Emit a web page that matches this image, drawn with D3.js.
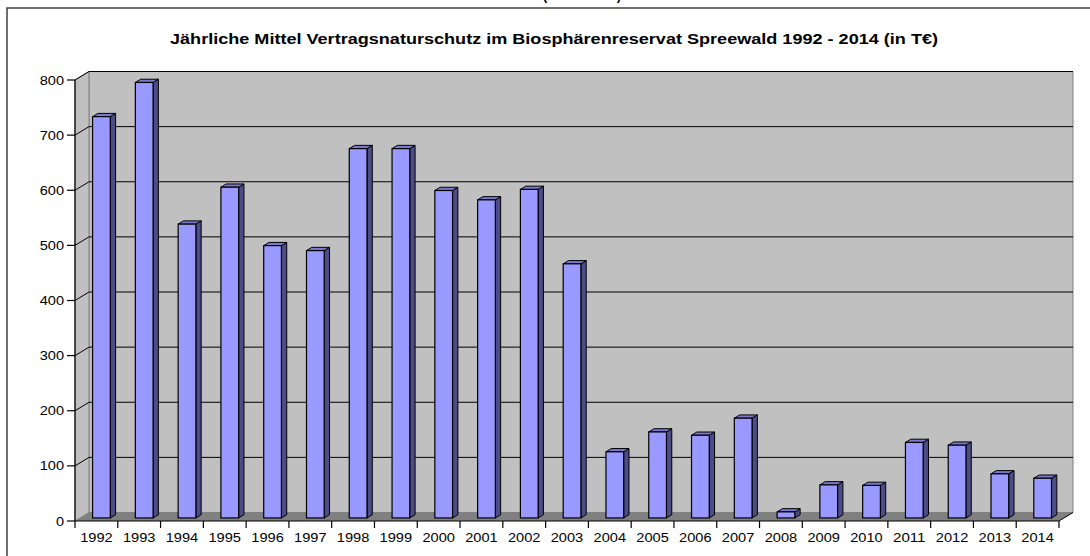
<!DOCTYPE html>
<html>
<head>
<meta charset="utf-8">
<script src="https://cdn.jsdelivr.net/npm/d3@7"></script>
<style>
  html, body { margin: 0; padding: 0; background: #fff; }
  svg { display: block; }
  text { font-family: "Liberation Sans", Arial, sans-serif; }
</style>
</head>
<body>
<svg id="chart" width="1090" height="556"></svg>
<script>
const years = ["1992","1993","1994","1995","1996","1997","1998","1999","2000","2001","2002","2003","2004","2005","2006","2007","2008","2009","2010","2011","2012","2013","2014"];
const values = [728, 790, 533, 600, 494, 485, 670, 670, 594, 577, 596, 461, 120, 156, 150, 181, 11, 60, 59, 137, 132, 80, 72];
const yTicks = [0, 100, 200, 300, 400, 500, 600, 700, 800];
const title = "Jährliche Mittel Vertragsnaturschutz im Biosphärenreservat Spreewald 1992 - 2014 (in T€)";
const cutTitle = "(1992 - 2014)";

const svg = d3.select("#chart");

// geometry
const X0 = 75, X1 = 1059, Y0 = 521, Y1 = 80;
const DX = 14, DY = -8.5;          // depth offset of back wall
const F1 = 0.36, F2 = 0.74;        // bar depth fractions

const x = d3.scaleBand().domain(years).range([X0, X1]).paddingInner(0).paddingOuter(0);
const y = d3.scaleLinear().domain([0, 800]).range([Y0, Y1]);

// outer frame
svg.append("rect").attr("x", 7).attr("y", 8).attr("width", 1100).attr("height", 600)
  .attr("fill", "#fff").attr("stroke", "#404040").attr("stroke-width", 1.5);

// cut-off text at top (as in the reference)
svg.append("text").attr("x", 582).attr("y", 0).attr("text-anchor", "middle")
  .attr("font-size", 13).attr("font-weight", "bold").attr("fill", "#000").text(cutTitle);

// title
svg.append("text").attr("x", 554).attr("y", 43.5).attr("text-anchor", "middle")
  .attr("font-size", 15).attr("font-weight", "bold").attr("fill", "#000")
  .attr("textLength", 768).attr("lengthAdjust", "spacingAndGlyphs")
  .text(title);

const g = svg.append("g");
const pt = (a, b) => a + "," + b;

// back wall
g.append("polygon")
  .attr("points", [pt(X0 + DX, Y1 + DY), pt(X1 + DX, Y1 + DY), pt(X1 + DX, Y0 + DY), pt(X0 + DX, Y0 + DY)].join(" "))
  .attr("fill", "#c0c0c0").attr("stroke", "#808080").attr("stroke-width", 1);
// side wall
g.append("polygon")
  .attr("points", [pt(X0, Y1), pt(X0 + DX, Y1 + DY), pt(X0 + DX, Y0 + DY), pt(X0, Y0)].join(" "))
  .attr("fill", "#c0c0c0").attr("stroke", "#808080").attr("stroke-width", 1);
// floor
g.append("polygon")
  .attr("points", [pt(X0, Y0), pt(X0 + DX, Y0 + DY), pt(X1 + DX, Y0 + DY), pt(X1, Y0)].join(" "))
  .attr("fill", "#808080").attr("stroke", "none");
g.append("line").attr("x1", X1).attr("y1", Y0).attr("x2", X1 + DX).attr("y2", Y0 + DY)
  .attr("stroke", "#000").attr("stroke-width", 1);

// gridlines
yTicks.filter(t => t > 0).forEach(t => {
  const yy = y(t);
  g.append("polyline")
    .attr("points", [pt(X0, yy), pt(X0 + DX, yy + DY), pt(X1 + DX, yy + DY)].join(" "))
    .attr("fill", "none").attr("stroke", "#000").attr("stroke-width", 1);
});

// bars
const bw = x.bandwidth() * 0.414;
const bars = g.append("g");
years.forEach((yr, i) => {
  const v = values[i];
  const cx = x(yr) + x.bandwidth() / 2;
  const l = cx - bw / 2, r = cx + bw / 2;
  const fx = DX * F1, fy = DY * F1, bx = DX * F2, by = DY * F2;
  const top = y(v), bot = y(0);
  // side
  bars.append("polygon")
    .attr("points", [pt(r + fx, top + fy), pt(r + bx, top + by), pt(r + bx, bot + by), pt(r + fx, bot + fy)].join(" "))
    .attr("fill", "#4c4c86").attr("stroke", "#000").attr("stroke-width", 1).attr("stroke-linejoin", "round");
  // top
  bars.append("polygon")
    .attr("points", [pt(l + fx, top + fy), pt(l + bx, top + by), pt(r + bx, top + by), pt(r + fx, top + fy)].join(" "))
    .attr("fill", "#7878cc").attr("stroke", "#000").attr("stroke-width", 1).attr("stroke-linejoin", "round");
  // front
  bars.append("rect")
    .attr("x", l + fx).attr("y", top + fy).attr("width", bw).attr("height", bot - top)
    .attr("fill", "#9999ff").attr("stroke", "#000").attr("stroke-width", 1.2);
});

// y axis
const ya = svg.append("g");
ya.append("line").attr("x1", X0).attr("x2", X0).attr("y1", Y1).attr("y2", Y0).attr("stroke", "#000").attr("stroke-width", 1.2);
yTicks.forEach(t => {
  ya.append("line").attr("x1", X0 - 8).attr("x2", X0).attr("y1", y(t)).attr("y2", y(t)).attr("stroke", "#000").attr("stroke-width", 1.2);
  const s = String(t);
  ya.append("text").attr("x", X0 - 11).attr("y", y(t) + 4.5).attr("text-anchor", "end")
    .attr("font-size", 12).attr("fill", "#000")
    .attr("textLength", s.length * 8.1).attr("lengthAdjust", "spacingAndGlyphs").text(s);
});

// x axis
const xa = svg.append("g");
xa.append("line").attr("x1", X0).attr("x2", X1).attr("y1", Y0).attr("y2", Y0).attr("stroke", "#000").attr("stroke-width", 1.2);
years.concat(["end"]).forEach((yr, i) => {
  const xx = X0 + i * x.bandwidth();
  xa.append("line").attr("x1", xx).attr("x2", xx).attr("y1", Y0).attr("y2", Y0 + 7).attr("stroke", "#000").attr("stroke-width", 1.2);
});
years.forEach(yr => {
  xa.append("text").attr("x", x(yr) + x.bandwidth() / 2).attr("y", 542).attr("text-anchor", "middle")
    .attr("font-size", 12).attr("fill", "#000")
    .attr("textLength", 32.5).attr("lengthAdjust", "spacingAndGlyphs").text(yr);
});
</script>
</body>
</html>
